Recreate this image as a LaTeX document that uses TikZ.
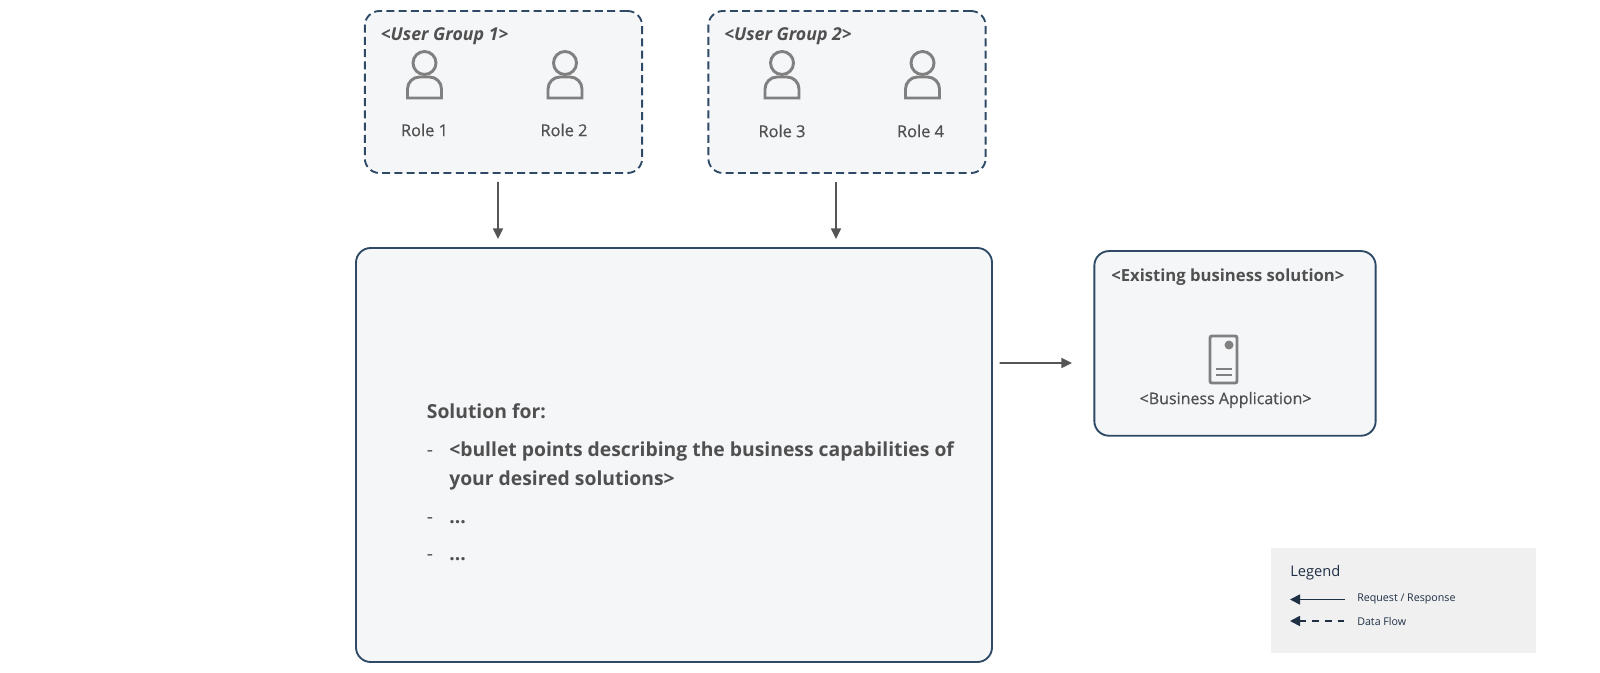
\documentclass[tikz,border=0pt]{standalone}
\usepackage{fontspec}
\setmainfont{Open Sans}
\newfontfamily\semi[FakeBold=0.6]{Open Sans}
\usetikzlibrary{arrows.meta}
\definecolor{edgeblue}{HTML}{2E4A66}
\definecolor{boxfill}{HTML}{F5F6F8}
\definecolor{txt}{HTML}{505050}
\definecolor{ico}{HTML}{808080}
\definecolor{arrowc}{HTML}{555555}
\definecolor{navy}{HTML}{1F2F44}
\definecolor{leg}{HTML}{F0F0F0}
\tikzset{
  x=0.75pt,y=-0.75pt,
  panel/.style={draw=edgeblue,fill=boxfill,line width=1.4pt,rounded corners=11pt,inner sep=0pt},
  group/.style={panel,dash pattern=on 6pt off 3.2pt},
  flow/.style={draw=arrowc,line width=1.2pt,-{Triangle[length=8pt,width=7.5pt]}},
  legline/.style={draw=navy,line width=1.3pt,{Triangle[length=7.5pt,width=7.5pt]}-},
  role/.style={text=txt,font=\semi\fontsize{12.3pt}{14pt}\selectfont,inner sep=0pt},
  head/.style={text=txt,font=\fontsize{12.5pt}{14pt}\selectfont\bfseries,inner sep=0pt,anchor=base west},
  ghead/.style={head,font=\fontsize{13.3pt}{14pt}\selectfont\bfseries\itshape},
  person/.style={draw=ico,line width=2.2pt},
  legtxt/.style={text=navy,font=\fontsize{8pt}{10pt}\selectfont,inner sep=0pt,anchor=base west},
  body/.style={text=txt,font=\fontsize{14.5pt}{18pt}\selectfont\bfseries,inner sep=0pt,anchor=base west},
  dashmark/.style={text=txt,font=\fontsize{14.5pt}{18pt}\selectfont,inner sep=0pt,anchor=base west}
}
\newcommand{\personicon}[1]{%
  \begin{scope}[shift={(#1,0)}]
    \draw[person] (0,63) circle[radius=11.5];
    \draw[person] (-17,98) [rounded corners=9pt] -- (-17,77) -- (17,77) [sharp corners] -- (17,98) -- cycle;
  \end{scope}}
\begin{document}
\begin{tikzpicture}
\useasboundingbox (0,0) rectangle (1600,673);
\fill[white] (0,0) rectangle (1600,673);
\node[group,minimum width=208pt,minimum height=121.5pt] (g1) at (503.5,92) {};
\node[group,minimum width=208pt,minimum height=121.5pt] (g2) at (847,92) {};
\node[panel,minimum width=477pt,minimum height=310.5pt] (main) at (674,455) {};
\node[panel,minimum width=211pt,minimum height=138.5pt] (ex) at (1235,343.4) {};
\fill[leg] (1270.5,548) rectangle (1536,653);

\node[ghead] (t1) at (380.6,41) {<User Group 1>};
\node[ghead] (t2) at (724,41) {<User Group 2>};
\personicon{424.5}
\personicon{565}
\personicon{782}
\personicon{922.5}
\node[role] (r1) at (424.5,130) {Role 1};
\node[role] (r2) at (564,130) {Role 2};
\node[role] (r3) at (782,131) {Role 3};
\node[role] (r4) at (920.5,131) {Role 4};

\draw[flow] ([xshift=-4.1pt,yshift=-6pt]g1.south) -- ([xshift=-132pt,yshift=6pt]main.north);
\draw[flow] ([xshift=-8.25pt,yshift=-6pt]g2.south) -- ([xshift=121.5pt,yshift=6pt]main.north);
\draw[flow] ([xshift=5pt,yshift=69pt]main.east) -- ([xshift=-16pt,yshift=-14.7pt]ex.west);

\node[body] (s0) at (426.6,419) {Solution for:};
\node[dashmark] (d1) at (426.6,457) {-};
\node[body] (s1) at (449,457) {<bullet points describing the business capabilities of};
\node[body] (s1b) at (449,485) {your desired solutions>};
\node[dashmark] (d2) at (426.6,523) {-};
\node[body] (s2) at (449,523) {...};
\node[dashmark] (d3) at (426.6,560) {-};
\node[body] (s3) at (449,560) {...};

\node[head] (t3) at (1111,282) {<Existing business solution>};
\draw[draw=ico,line width=2.2pt,rounded corners=1.5pt] (1210,336) rectangle (1237,383);
\fill[ico] (1229,345) circle[radius=4.5];
\draw[draw=ico,line width=2.2pt] (1216,369) -- (1232,369) (1216,375) -- (1232,375);
\node[role,font=\semi\fontsize{12pt}{14pt}\selectfont] (r5) at (1225.6,400) {<Business Application>};

\node[text=navy,font=\fontsize{11pt}{14pt}\selectfont,inner sep=0pt,anchor=base west] (lg) at (1290,576) {Legend};
\coordinate (la1) at (1290,599.5);
\coordinate (lb1) at (1345,599.5);
\coordinate (la2) at (1290,621);
\coordinate (lb2) at (1345,621);
\draw[legline] (la1) -- (lb1);
\draw[legline,dash pattern=on 5pt off 4.5pt] (la2) -- (lb2);
\node[legtxt] (l1) at (1357,601) {Request / Response};
\node[legtxt] (l2) at (1357,625) {Data Flow};
\end{tikzpicture}
\end{document}
